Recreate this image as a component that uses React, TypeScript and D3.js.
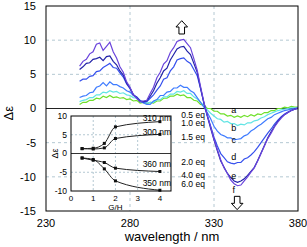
import React, { useEffect, useRef } from 'react';
import * as d3 from 'd3';

// CD spectra, titration with guest (eq)
const wavelengths = [250, 252, 254, 256, 258, 260, 262, 264, 266, 268, 270, 272, 274, 276, 278, 280, 282, 284, 286, 288, 290, 292, 294, 296, 298, 300, 302, 304, 306, 308, 310, 312, 314, 316, 318, 320, 322, 324, 326, 328, 330, 332, 334, 336, 338, 340, 342, 344, 346, 348, 350, 352, 354, 356, 358, 360, 362, 364, 366, 368, 370, 372, 374, 376, 378, 380];

const spec05 = [0.6, 0.9, 0.9, 1.2, 1.2, 1.5, 1.4, 1.8, 1.6, 1.9, 1.6, 1.7, 1.5, 1.6, 1.3, 1.4, 1.1, 1.2, 0.8, 0.9, 0.7, 0.9, 0.8, 1.1, 1.1, 1.5, 1.5, 1.8, 1.8, 2.1, 1.9, 2.0, 1.6, 1.6, 1.2, 1.1, 0.6, 0.5, 0.0, 0.0, -0.4, -0.4, -0.8, -0.8, -1.1, -1.0, -1.3, -1.1, -1.3, -1.0, -1.2, -0.9, -1.1, -0.8, -0.9, -0.6, -0.6, -0.3, -0.3, 0.0, 0.0, 0.2, 0.1, 0.3, 0.2, 0.2];
const spec10 = [1.0, 1.2, 1.3, 1.6, 1.6, 2.0, 2.0, 2.4, 2.3, 2.6, 2.4, 2.5, 2.2, 2.3, 2.0, 1.9, 1.6, 1.5, 1.1, 1.0, 0.8, 0.9, 0.9, 1.3, 1.3, 1.7, 1.7, 2.1, 2.1, 2.5, 2.4, 2.6, 2.2, 2.2, 1.7, 1.4, 0.9, 0.4, -0.2, -0.7, -1.1, -1.5, -1.6, -2.0, -1.9, -2.2, -2.2, -2.5, -2.3, -2.4, -2.1, -2.1, -1.8, -1.7, -1.4, -1.2, -0.9, -0.7, -0.5, -0.3, -0.2, -0.1, 0.0, 0.1, 0.1, 0.1];
const spec15 = [1.6, 1.8, 1.9, 2.3, 2.4, 3.1, 3.3, 3.8, 3.3, 3.9, 3.5, 3.5, 3.2, 3.0, 2.6, 2.4, 1.9, 1.7, 1.2, 0.8, 0.6, 0.6, 1.1, 1.3, 1.9, 1.9, 2.4, 2.5, 3.0, 3.0, 3.4, 3.1, 3.1, 2.6, 2.3, 1.6, 0.9, 0.2, -0.6, -1.5, -2.6, -3.3, -3.8, -4.0, -4.3, -4.3, -4.6, -4.5, -4.4, -4.0, -3.8, -3.3, -3.0, -2.6, -2.3, -1.9, -1.5, -1.3, -0.9, -0.7, -0.5, -0.3, -0.2, -0.1, 0.0, 0.1];
const spec20 = [4.0, 4.3, 4.3, 4.7, 4.8, 5.4, 5.5, 6.0, 6.3, 6.6, 6.0, 5.9, 5.2, 4.6, 3.6, 2.9, 2.0, 1.6, 1.0, 0.9, 1.0, 1.5, 2.0, 2.7, 3.3, 4.3, 4.5, 5.5, 6.1, 7.1, 7.3, 7.4, 6.9, 6.6, 5.7, 4.8, 2.9, 0.8, -1.0, -2.6, -4.2, -5.5, -6.6, -7.2, -7.8, -8.0, -8.1, -7.9, -7.9, -7.4, -7.2, -6.8, -6.3, -5.7, -5.0, -4.3, -3.6, -3.0, -2.3, -1.7, -1.2, -0.8, -0.5, -0.3, -0.1, 0.0];
const spec40 = [5.7, 6.1, 6.6, 6.7, 7.2, 7.3, 7.5, 7.0, 7.6, 7.7, 6.9, 6.4, 5.5, 4.9, 3.7, 3.0, 2.0, 1.6, 1.1, 1.0, 1.1, 1.8, 2.6, 3.7, 4.5, 5.5, 5.9, 7.1, 7.9, 8.7, 9.0, 9.1, 8.4, 7.9, 6.6, 5.3, 3.0, 0.8, -1.1, -2.9, -4.6, -6.2, -7.7, -8.6, -9.5, -10.1, -10.6, -10.8, -10.6, -10.3, -9.8, -9.2, -8.6, -7.6, -6.5, -5.4, -4.3, -3.4, -2.6, -1.9, -1.3, -0.9, -0.6, -0.3, -0.1, 0.0];
const spec60 = [6.2, 6.9, 7.2, 8.0, 8.3, 9.4, 9.6, 8.5, 9.1, 9.7, 8.3, 7.4, 6.1, 5.3, 3.9, 3.1, 2.0, 1.5, 1.0, 1.1, 1.2, 2.2, 3.1, 4.5, 5.3, 6.5, 7.0, 8.2, 8.9, 9.8, 10.0, 10.1, 9.5, 8.9, 7.3, 5.6, 3.2, 0.9, -1.0, -2.7, -4.5, -6.0, -7.5, -8.7, -9.5, -10.5, -11.0, -11.3, -11.2, -10.6, -10.0, -9.3, -8.7, -7.7, -6.6, -5.5, -4.4, -3.6, -2.7, -2.0, -1.4, -0.9, -0.6, -0.3, -0.1, 0.1];

const eqLabels = ['0.5 eq', '1.0 eq', '1.5 eq', '2.0 eq', '4.0 eq', '6.0 eq'];
const curveLetters = ['a', 'b', 'c', 'd', 'e', 'f'];

const xTicks = [230, 280, 330, 380];
const yTicks = [15, 10, 5, 0, -5, -10, -15];

// inset: Δε vs G/H
const ghRatio = [0.5, 1, 1.5, 2, 4];
const inset310 = [1.3, 1.4, 2.7, 7.1, 8.5];
const inset300 = [1.3, 1.2, 1.5, 4.0, 5.1];
const inset360 = [-1.2, -1.8, -2.4, -3.9, -4.8];
const inset350 = [-1.2, -1.6, -4.1, -7.3, -9.8];
const insetNames = ['310 nm', '300 nm', '360 nm', '350 nm'];
const insetXTicks = [0, 1, 2, 3, 4];
const insetYTicks = [10, 5, 0, -5, -10];

const W = 307;
const H = 247;
const FONT = '"Liberation Sans", Arial, sans-serif';

const App = () => {
  const ref = useRef<SVGSVGElement | null>(null);

  useEffect(() => {
    if (!ref.current) return;
    const svg = d3.select(ref.current);
    svg.selectAll('*').remove();

    const x = d3.scaleLinear().domain([230, 380]).range([46, 298]);
    const y = d3.scaleLinear().domain([-15, 15]).range([211, 6]);
    const grid = '#b4c8d2';

    // grid
    svg.append('g').selectAll('line').data([10, 5, -5, -10]).join('line')
      .attr('x1', x(230)).attr('x2', x(380))
      .attr('y1', d => y(d)).attr('y2', d => y(d))
      .attr('stroke', grid).attr('stroke-dasharray', '3,3');
    svg.append('g').selectAll('line').data([280, 330]).join('line')
      .attr('x1', d => x(d)).attr('x2', d => x(d))
      .attr('y1', y(15)).attr('y2', y(-15))
      .attr('stroke', grid).attr('stroke-dasharray', '3,3');

    svg.append('line')
      .attr('x1', x(230)).attr('x2', x(380))
      .attr('y1', y(0)).attr('y2', y(0))
      .attr('stroke', '#222').attr('stroke-width', 1);

    // spectra
    const series = [spec05, spec10, spec15, spec20, spec40, spec60];
    const colors = ['#6fe02a', '#62e4e4', '#3f7cff', '#3550ee', '#2222a8', '#6a44dc'];
    const line = d3.line<number>()
      .x((d, i) => x(wavelengths[i]))
      .y(d => y(d));
    svg.append('g').selectAll('path').data(series).join('path')
      .attr('d', d => line(d))
      .attr('fill', 'none')
      .attr('stroke', (d, i) => colors[i])
      .attr('stroke-width', 1.2);

    // frame
    svg.append('rect')
      .attr('x', x(230)).attr('y', y(15))
      .attr('width', x(380) - x(230)).attr('height', y(-15) - y(15))
      .attr('fill', 'none').attr('stroke', '#000').attr('stroke-width', 1);

    // tick labels
    svg.append('g').selectAll('text').data(yTicks).join('text')
      .attr('x', 36).attr('y', d => y(d)).attr('dy', '0.35em')
      .attr('text-anchor', 'end')
      .attr('font-size', 11).attr('font-family', FONT)
      .text(d => d);
    svg.append('g').selectAll('text').data(xTicks).join('text')
      .attr('x', d => x(d)).attr('y', 227)
      .attr('text-anchor', 'middle')
      .attr('font-size', 11).attr('font-family', FONT)
      .text(d => d);

    svg.append('text')
      .attr('x', 172).attr('y', 241)
      .attr('text-anchor', 'middle')
      .attr('font-size', 13).attr('font-family', FONT)
      .text('wavelength / nm');
    svg.append('text')
      .attr('transform', `translate(13,${y(-0.7)}) rotate(-90)`)
      .attr('text-anchor', 'middle')
      .attr('font-size', 13).attr('font-family', FONT)
      .text('Δε');

    // eq labels and letters
    const eqY = [-1.35, -2.6, -4.6, -8.3, -10.15, -11.45];
    svg.append('g').selectAll('text').data(eqLabels).join('text')
      .attr('x', x(310.5)).attr('y', (d, i) => y(eqY[i]))
      .attr('font-size', 8.5).attr('font-family', FONT)
      .text(d => d);
    const letterY = [-0.65, -3.35, -5.05, -7.55, -10.3, -12.3];
    svg.append('g').selectAll('text').data(curveLetters).join('text')
      .attr('x', x(341.8)).attr('y', (d, i) => y(letterY[i]))
      .attr('text-anchor', 'middle')
      .attr('font-size', 9).attr('font-family', FONT)
      .text(d => d);

    // arrows
    const arrow = (cx: number, tip: number, dir: number) => {
      const hw = 5.8, sw = 2.8, hh = 6.3, len = 13.3;
      const p = [
        [cx, tip],
        [cx + hw, tip + dir * hh],
        [cx + sw, tip + dir * hh],
        [cx + sw, tip + dir * len],
        [cx - sw, tip + dir * len],
        [cx - sw, tip + dir * hh],
        [cx - hw, tip + dir * hh],
      ];
      svg.append('path')
        .attr('d', 'M' + p.map(q => q.join(',')).join('L') + 'Z')
        .attr('fill', '#fff').attr('stroke', '#000').attr('stroke-width', 1);
    };
    arrow(x(310.8), y(12.85), 1);
    arrow(x(343.8), y(-14.8), -1);

    // inset
    const ix = d3.scaleLinear().domain([0, 4.5]).range([71, 171]);
    const iy = d3.scaleLinear().domain([-10, 10]).range([191, 116]);
    const inset = svg.append('g');
    inset.append('rect')
      .attr('x', ix(0)).attr('y', iy(10))
      .attr('width', ix(4.5) - ix(0)).attr('height', iy(-10) - iy(10))
      .attr('fill', '#fff');
    inset.append('g').selectAll('line').data([1, 2, 3]).join('line')
      .attr('x1', d => ix(d)).attr('x2', d => ix(d))
      .attr('y1', iy(10)).attr('y2', iy(-10))
      .attr('stroke', grid).attr('stroke-dasharray', '2,2');
    inset.append('g').selectAll('line').data([5, -5]).join('line')
      .attr('x1', ix(0)).attr('x2', ix(4.5))
      .attr('y1', d => iy(d)).attr('y2', d => iy(d))
      .attr('stroke', grid).attr('stroke-dasharray', '2,2');
    inset.append('line')
      .attr('x1', ix(0)).attr('x2', ix(4.5))
      .attr('y1', iy(0)).attr('y2', iy(0))
      .attr('stroke', '#333');

    const iSeries = [inset310, inset300, inset360, inset350];
    const iLine = d3.line<number>()
      .x((d, i) => ix(ghRatio[i]))
      .y(d => iy(d))
      .curve(d3.curveMonotoneX);
    iSeries.forEach(s => {
      inset.append('path').attr('d', iLine(s))
        .attr('fill', 'none').attr('stroke', '#222').attr('stroke-width', 1);
      inset.append('g').selectAll('rect').data(s).join('rect')
        .attr('x', (d, i) => ix(ghRatio[i]) - 1.5)
        .attr('y', d => iy(d) - 1.5)
        .attr('width', 3).attr('height', 3)
        .attr('fill', '#111');
    });

    const nameY = [8.8, 5.0, -3.7, -8.6];
    inset.append('g').selectAll('text').data(insetNames).join('text')
      .attr('x', 171).attr('y', (d, i) => iy(nameY[i]))
      .attr('text-anchor', 'end')
      .attr('font-size', 8.5).attr('font-family', FONT)
      .text(d => d);

    inset.append('rect')
      .attr('x', ix(0)).attr('y', iy(10))
      .attr('width', ix(4.5) - ix(0)).attr('height', iy(-10) - iy(10))
      .attr('fill', 'none').attr('stroke', '#000');

    inset.append('g').selectAll('text').data(insetYTicks).join('text')
      .attr('x', 67).attr('y', d => iy(d)).attr('dy', '0.35em')
      .attr('text-anchor', 'end')
      .attr('font-size', 8.5).attr('font-family', FONT)
      .text(d => d);
    inset.append('g').selectAll('text').data(insetXTicks).join('text')
      .attr('x', d => ix(d)).attr('y', 200.5)
      .attr('text-anchor', 'middle')
      .attr('font-size', 8).attr('font-family', FONT)
      .text(d => d);
    inset.append('text')
      .attr('x', ix(2)).attr('y', 209.5)
      .attr('text-anchor', 'middle')
      .attr('font-size', 8).attr('font-family', FONT)
      .text('G/H');
    inset.append('text')
      .attr('transform', `translate(58,${iy(0)}) rotate(-90)`)
      .attr('text-anchor', 'middle')
      .attr('font-size', 9).attr('font-family', FONT)
      .text('Δε');
  }, []);

  return (
    <svg
      ref={ref}
      width={W}
      height={H}
      style={{ position: 'absolute', left: 0, top: 0, background: '#fff' }}
    />
  );
};

export default App;
